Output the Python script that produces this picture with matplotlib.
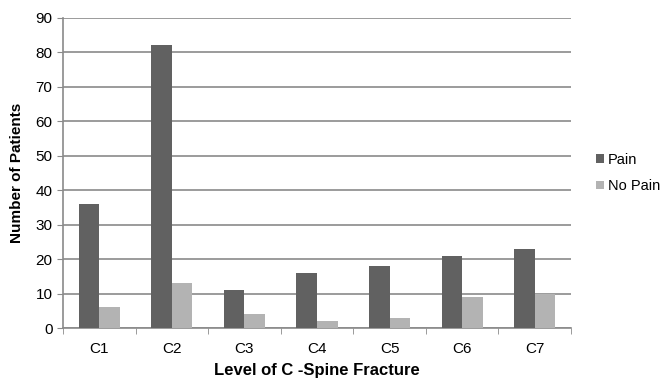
import numpy as np
import matplotlib.pyplot as plt

plt.rcParams['font.family'] = ['Liberation Sans', 'DejaVu Sans']

levels = ["C1", "C2", "C3", "C4", "C5", "C6", "C7"]
pain = [36, 82, 11, 16, 18, 21, 23]
no_pain = [6, 13, 4, 2, 3, 9, 10]

fig = plt.figure(figsize=(6.66, 3.81), dpi=100)
ax = fig.add_axes([0.0946, 0.139, 0.7627, 0.814])

x = np.arange(len(levels))
w = 0.283
ax.bar(x - w / 2, pain, w, color="#616161", label="Pain", zorder=3)
ax.bar(x + w / 2, no_pain, w, color="#b3b3b3", label="No Pain", zorder=3)

ax.set_xlim(-0.5, len(levels) - 0.5)
ax.set_ylim(0, 90)
ax.set_yticks(range(0, 91, 10))
ax.yaxis.grid(True, color="#8a8a8a", linewidth=1.2, zorder=0)

ax.set_xticks(x)
ax.set_xticklabels(levels, fontsize=11)
ax.set_xticks(np.arange(-0.5, len(levels)), minor=True)
ax.tick_params(axis="x", which="major", length=0, pad=10)
ax.tick_params(axis="x", which="minor", length=4, color="#8a8a8a", direction="out")
ax.tick_params(axis="y", labelsize=11, length=4, color="#8a8a8a")

for s in ["top", "right"]:
    ax.spines[s].set_visible(False)
for s in ["left", "bottom"]:
    ax.spines[s].set_color("#8a8a8a")
    ax.spines[s].set_linewidth(1.2)

ax.set_ylabel("Number of Patients", fontsize=11, fontweight="bold", labelpad=8)
ax.set_xlabel("Level of C -Spine Fracture", fontsize=12, fontweight="bold", labelpad=5)

ax.legend(loc="center left", bbox_to_anchor=(1.033, 0.5), frameon=False, fontsize=10.5,
          handlelength=0.55, handleheight=0.55, handletextpad=0.25, labelspacing=0.85,
          borderaxespad=0.2)

fig.savefig("out.png", dpi=100)
